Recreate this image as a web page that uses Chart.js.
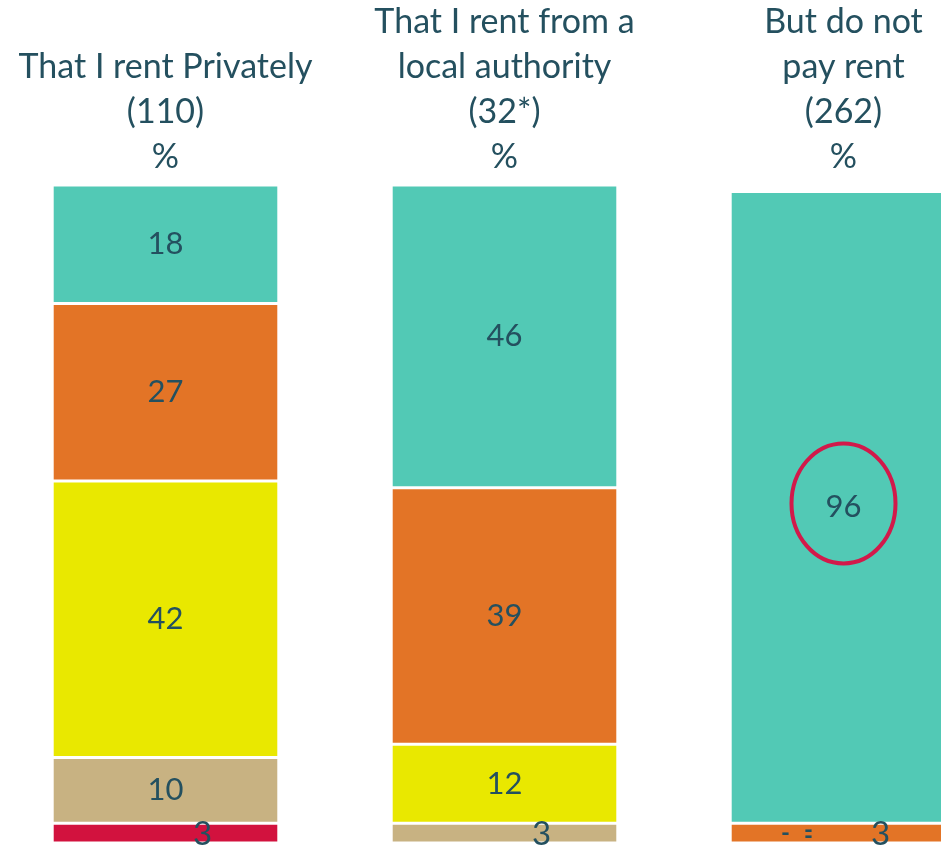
<!DOCTYPE html>
<html>
<head>
<meta charset="utf-8">
<script src="https://cdn.jsdelivr.net/npm/chart.js@4"></script>
<style>
  html, body { margin: 0; padding: 0; background: #fff; overflow: hidden; }
  #wrap { position: absolute; left: -4px; top: 0; width: 1017px; height: 846px; }
</style>
</head>
<body>
<div id="wrap"><canvas id="myBarChart"></canvas></div>
<script>
// categories (header lines)
const categories = [
  ['That I rent Privately', '(110)', '%'],
  ['That I rent from a', 'local authority', '(32*)', '%'],
  ['But do not', 'pay rent', '(262)', '%']
];

// series values, %, stacked from the bottom up
const redValues    = [3, 0, 0];
const tanValues    = [10, 3, 0];
const yellowValues = [42, 12, 0];
const orangeValues = [27, 39, 3];
const tealValues   = [18, 46, 96];

const textColor = '#24505f';
const fontName = 'Lato, "Open Sans", sans-serif';

// draws the number inside each block
const segmentLabels = {
  id: 'segmentLabels',
  afterDatasetsDraw(chart) {
    const ctx = chart.ctx;
    ctx.save();
    ctx.fillStyle = textColor;
    ctx.textAlign = 'center';
    ctx.textBaseline = 'middle';
    chart.data.datasets.forEach(function (ds, di) {
      const meta = chart.getDatasetMeta(di);
      meta.data.forEach(function (bar, i) {
        const v = ds.data[i];
        const bottom = chart.scales.y.getPixelForValue(0);
        if (v >= 5) {
          ctx.font = '31px ' + fontName;
          ctx.fillText(String(v), bar.x, (bar.y + bar.base) / 2);
        } else if (v > 0) {
          ctx.font = '33px ' + fontName;
          ctx.fillText(String(v), bar.x + 37, (bar.y + bar.base) / 2 + 1);
        } else {
          // empty categories get a small dash
          ctx.font = 'bold 24px ' + fontName;
          let dx = -35, dy = 0;
          if (ds.label === 'yellow') { dx = -58; dy = 0; }
          if (ds.label === 'tan') { dy = -3; }
          if (ds.label === 'red') { dy = 3; }
          if (ds.label === 'red' && i === 1) { dx = -5; dy = 16; }
          ctx.fillText('-', bar.x + dx, bottom - 10 + dy);
        }
      });
    });

    // red ring round the 96
    const tealIdx = chart.data.datasets.findIndex(d => d.label === 'teal');
    const b = chart.getDatasetMeta(tealIdx).data[2];
    ctx.strokeStyle = '#d2194a';
    ctx.lineWidth = 4;
    ctx.beginPath();
    ctx.ellipse(b.x, (b.y + b.base) / 2 - 4, 52, 60, 0, 0, Math.PI * 2);
    ctx.stroke();
    ctx.restore();
  }
};

const gap = { top: 1.5, bottom: 1.5, left: 0, right: 0 };

const ctx = document.getElementById('myBarChart').getContext('2d');
const myBarChart = new Chart(ctx, {
  type: 'bar',
  data: {
    labels: categories,
    datasets: [
      { label: 'red', data: redValues, backgroundColor: '#d2123e' },
      { label: 'tan', data: tanValues, backgroundColor: '#c8b282' },
      { label: 'yellow', data: yellowValues, backgroundColor: '#e9e800' },
      { label: 'orange', data: orangeValues, backgroundColor: '#e37426' },
      { label: 'teal', data: tealValues, backgroundColor: '#52c9b5' }
    ].map(function (d) {
      d.borderColor = '#ffffff';
      d.borderWidth = gap;
      d.borderSkipped = false;
      d.categoryPercentage = 1;
      d.barPercentage = 0.661;
      return d;
    })
  },
  options: {
    responsive: true,
    maintainAspectRatio: false,
    animation: false,
    layout: { padding: { top: 0, bottom: 3, left: 0, right: 0 } },
    plugins: {
      legend: { display: false },
      tooltip: { enabled: false }
    },
    scales: {
      x: {
        position: 'top',
        stacked: true,
        grid: { display: false, drawTicks: false },
        border: { display: false },
        ticks: {
          color: textColor,
          padding: 5,
          maxRotation: 0,
          autoSkip: false,
          font: { family: fontName, size: 34, lineHeight: '45px' }
        },
        afterFit: function (scale) { scale.height = 185; }
      },
      y: {
        stacked: true,
        display: false,
        min: 0,
        max: 100
      }
    }
  },
  plugins: [segmentLabels]
});
</script>
</body>
</html>
